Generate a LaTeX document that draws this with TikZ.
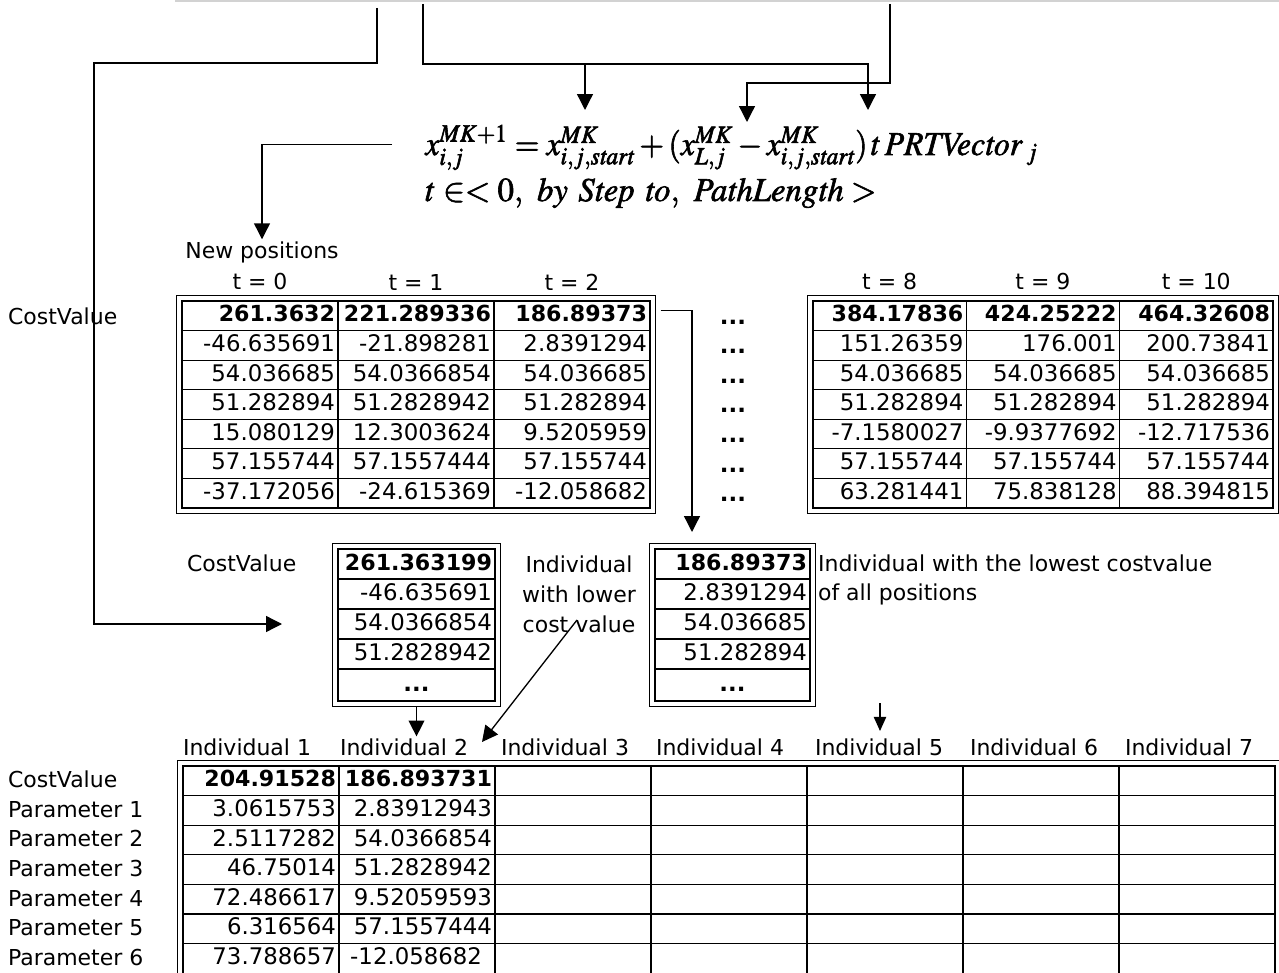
\documentclass[tikz,border=0pt]{standalone}
\usepackage{mathptmx}
\usepackage[no-math]{fontspec}
\setmainfont{DejaVu Sans}
\usetikzlibrary{arrows.meta, positioning, calc}
\newcommand\heavy[1]{\special{pdf:literal direct 2 Tr 0.35 w}#1\special{pdf:literal direct 0 Tr}}

\begin{document}
\begin{tikzpicture}[x=0.02cm, y=-0.02cm,
    num/.style   = {draw, line width=0.7pt, inner xsep=0.06cm, inner ysep=0pt, align=right,
                    text height=9.5pt, text depth=2.5pt, font=\fontsize{13}{15}\selectfont},
    cellA/.style = {num, text width=3.0cm, minimum height=0.5914cm},
    cellB/.style = {num, text width=2.947cm, minimum height=0.5914cm},
    cellC/.style = {num, text width=3.0cm, minimum height=0.592cm},
    hi/.style    = {font=\fontsize{12.6}{15}\selectfont\bfseries},
    frame/.style = {line width=0.7pt},
    lbl/.style   = {font=\fontsize{12.5}{16}\selectfont, inner sep=1pt},
    eq/.style    = {font=\fontsize{19}{22}\selectfont, inner sep=0pt},
    dots/.style  = {font=\fontsize{13}{15}\selectfont\bfseries, inner sep=0pt},
    ar/.style    = {-{Triangle[length=9pt, width=9pt]}, line width=0.75pt},
    ars/.style   = {-{Triangle[length=8pt, width=7pt]}, line width=0.75pt}
]
    \useasboundingbox (0,0) rectangle (1279,973);
    \draw[gray!35, line width=0.6pt] (175,1) -- (1279,1);

    % formula
    \node[eq, anchor=base west] (eq1) at (425,155)
        {\heavy{\scalebox{0.95}[1]{$x^{MK+1}_{i,j} = x^{MK}_{i,j,\mathit{start}} + (x^{MK}_{L,j} - x^{MK}_{i,j,\mathit{start}})\,t\,\mathit{PRTVector}\,{}_{j}$}}};
    \node[eq, anchor=base west] (eq2) at (425,201)
        {\heavy{\scalebox{0.98}[1]{$t\in<0,\ \mathit{by}\ \mathit{Step}\ \mathit{to},\ \mathit{PathLength}>$}}};

    % table of new positions, t = 0 ... 2
    \node[lbl] (newpos) at (262,252) {New positions};
    \node[lbl, anchor=west] (cvtop) at (6,316) {CostValue};
    \foreach \col/\tv in {1/0, 2/1, 3/2}
        \node[lbl] (hA-\col) at ({182+156*(\col-0.5)}, 282) {t = \tv};
    \foreach \col/\v in {1/261.3632, 2/221.289336, 3/186.89373}
        \node[cellA, hi] (tA-1-\col) at ({182+156*(\col-0.5)}, 315.8) {\v};
    \foreach \row/\a/\b/\d in {2/-46.635691/-21.898281/2.8391294,
                               3/54.036685/54.0366854/54.036685,
                               4/51.282894/51.2828942/51.282894,
                               5/15.080129/12.3003624/9.5205959,
                               6/57.155744/57.1557444/57.155744,
                               7/-37.172056/-24.615369/-12.058682}{
        \node[cellA] (tA-\row-1) at (260, {301+29.57*(\row-0.5)}) {\a};
        \node[cellA] (tA-\row-2) at (416, {301+29.57*(\row-0.5)}) {\b};
        \node[cellA] (tA-\row-3) at (572, {301+29.57*(\row-0.5)}) {\d};
    }
    \draw[frame] ($(tA-1-1.north west)+(-5,-5)$) rectangle ($(tA-7-3.south east)+(5,5)$);

    \foreach \row in {1,...,7}
        \node[dots] (gap-\row) at (733, {322+29.57*(\row-1)}) {...};

    % t = 8 ... 10
    \foreach \col/\tv in {1/8, 2/9, 3/10}
        \node[lbl] (hB-\col) at ({813+153.3*(\col-0.5)}, 282) {t = \tv};
    \foreach \col/\v in {1/384.17836, 2/424.25222, 3/464.32608}
        \node[cellB, hi] (tB-1-\col) at ({813+153.3*(\col-0.5)}, 315.8) {\v};
    \foreach \row/\a/\b/\d in {2/151.26359/176.001/200.73841,
                               3/54.036685/54.036685/54.036685,
                               4/51.282894/51.282894/51.282894,
                               5/-7.1580027/-9.9377692/-12.717536,
                               6/57.155744/57.155744/57.155744,
                               7/63.281441/75.838128/88.394815}{
        \node[cellB] (tB-\row-1) at (889.7, {301+29.57*(\row-0.5)}) {\a};
        \node[cellB] (tB-\row-2) at (1043, {301+29.57*(\row-0.5)}) {\b};
        \node[cellB] (tB-\row-3) at (1196.3, {301+29.57*(\row-0.5)}) {\d};
    }
    \draw[frame] ($(tB-1-1.north west)+(-5,-5)$) rectangle ($(tB-7-3.south east)+(5,5)$);

    % chosen individuals
    \node[lbl, anchor=west] (cvmid) at (185,563) {CostValue};
    \node[cellA, hi, text width=3.02cm, minimum height=0.6cm] (b1-1) at (416.5,564) {261.363199};
    \foreach \row/\v in {2/-46.635691, 3/54.0366854, 4/51.2828942}
        \node[cellA, text width=3.02cm, minimum height=0.6cm] (b1-\row) at (416.5, {549+30*(\row-0.5)}) {\v};
    \node[cellA, text width=3.02cm, minimum height=0.64cm, align=center] (b1-5) at (416.5,685) {\bfseries ...};
    \draw[frame] ($(b1-1.north west)+(-5,-5)$) rectangle ($(b1-5.south east)+(5,5)$);

    \node[lbl, align=center, font=\fontsize{12.5}{17}\selectfont] (lowerlbl) at (579,594)
        {Individual\\with lower\\cost value};

    \node[cellA, hi, text width=2.98cm, minimum height=0.6cm] (b2-1) at (732.5,564) {186.89373};
    \foreach \row/\v in {2/2.8391294, 3/54.036685, 4/51.282894}
        \node[cellA, text width=2.98cm, minimum height=0.6cm] (b2-\row) at (732.5, {549+30*(\row-0.5)}) {\v};
    \node[cellA, text width=2.98cm, minimum height=0.64cm, align=center] (b2-5) at (732.5,685) {\bfseries ...};
    \draw[frame] ($(b2-1.north west)+(-5,-5)$) rectangle ($(b2-5.south east)+(5,5)$);

    \node[lbl, align=left, anchor=north west, font=\fontsize{12.5}{16.4}\selectfont] (lowestlbl) at (816,553)
        {Individual with the lowest costvalue\\of all positions};

    % population
    \foreach \col/\hx in {1/247, 2/404, 3/565, 4/720, 5/879, 6/1034, 7/1189}
        \node[lbl] (ind\col) at (\hx,747) {Individual \col};
    \foreach \row/\txt in {1/CostValue, 2/Parameter 1, 3/Parameter 2, 4/Parameter 3,
                           5/Parameter 4, 6/Parameter 5, 7/Parameter 6}
        \node[lbl, anchor=west] (rl-\row) at (6, {766+29.6*(\row-0.5)-1}) {\txt};
    \node[cellC, hi] (tC-1-1) at (261,780.8) {204.91528};
    \node[cellC, hi] (tC-1-2) at (417,780.8) {186.893731};
    \foreach \row/\a/\b in {2/3.0615753/2.83912943, 3/2.5117282/54.0366854,
                            4/46.75014/51.2828942, 5/72.486617/9.52059593,
                            6/6.316564/57.1557444, 7/73.788657/-12.058682\kern0.2cm}{
        \node[cellC] (tC-\row-1) at (261, {766+29.6*(\row-0.5)}) {\a};
        \node[cellC] (tC-\row-2) at (417, {766+29.6*(\row-0.5)}) {\b};
    }
    \foreach \col in {3,...,7}
        \foreach \row in {1,...,7}
            \node[cellC] (tC-\row-\col) at ({183+156*(\col-0.5)}, {766+29.6*(\row-0.5)}) {};
    \draw[frame] ($(tC-1-1.north west)+(-5,-5)$) rectangle ($(tC-7-7.south east)+(5,5)$);

    % connectors
    \coordinate (fromA) at (377,8);
    \coordinate (fromB) at (423,4);
    \coordinate (fromC) at (890,4);
    \coordinate (tipS1) at (585,110);
    \coordinate (tipS2) at (868,110);
    \coordinate (tipL)  at (747,122);
    \coordinate (tipCV) at (282,624);
    \coordinate (tipB2) at (692,532);
    \coordinate (diagS) at (577,620);
    \coordinate (diagE) at (482,742);
    \coordinate (arr5)  at (880,703);

    \draw[ar] (fromA) |- (94,63) |- (tipCV);
    \draw[ar] (fromB) -- ++(0,60) -| (tipS2);
    \draw[ar] (tipS1) ++(0,-46) -- (tipS1);
    \draw[ar] (fromC) -- ++(0,79) -| (tipL);
    \draw[ar] ($(eq1.west)+(-33,-3)$) -| (newpos.north);
    \draw[ar] ($(tA-1-3.east)+(10,-5)$) -| (tipB2);
    \draw[ar] ($(b1-5.south)+(0,5)$) -- (b1-5.south |- ind2.north);
    \draw[ar] (diagS) -- (diagE);
    \draw[ars] (arr5) -- ++(0,28);
\end{tikzpicture}
\end{document}
